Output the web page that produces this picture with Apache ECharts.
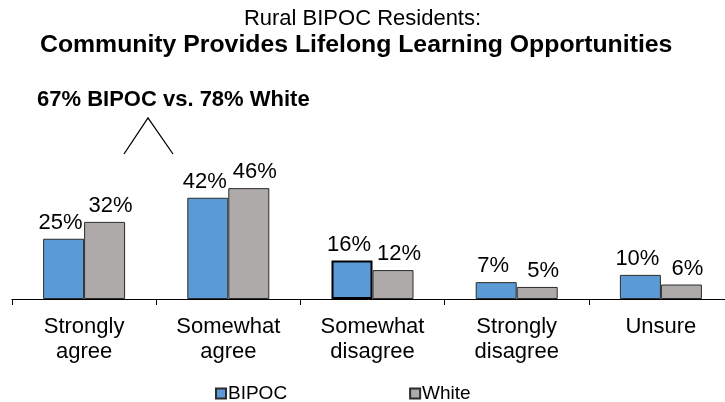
<!DOCTYPE html>
<html>
<head>
<meta charset="utf-8">
<script src="https://cdn.jsdelivr.net/npm/echarts@6/dist/echarts.min.js"></script>
<style>html,body{margin:0;padding:0;background:#fff}#c{width:725px;height:402px}</style>
</head>
<body>
<div id="c"></div>
<script>
var categories = ['Strongly\nagree', 'Somewhat\nagree', 'Somewhat\ndisagree', 'Strongly\ndisagree', 'Unsure'];
var bipoc = [25, 42, 16, 7, 10];
var white = [32, 46, 12, 5, 6];
var seriesNames = ['BIPOC', 'White'];
var titleText = 'Rural BIPOC Residents:';
var subtitleText = 'Community Provides Lifelong Learning Opportunities';
var noteText = '67% BIPOC vs. 78% White';

var FONT = '"Liberation Sans", Arial, sans-serif';
var chart = echarts.init(document.getElementById('c'));
function labelCfg(dx) {
  return { show: true, position: 'top', distance: 5, offset: [dx, 0], color: '#000', fontSize: 22, fontFamily: FONT, formatter: '{c}%' };
}
chart.setOption({
  animation: false,
  backgroundColor: '#fff',
  title: [
    { text: titleText, left: 'center', top: 8, padding: 0, textStyle: { fontSize: 22, fontWeight: 'normal', color: '#000', fontFamily: FONT } },
    { text: subtitleText, left: 40, top: 33, padding: 0, textStyle: { fontSize: 24.8, fontWeight: 'bold', color: '#000', fontFamily: FONT } },
    { text: noteText, left: 37, top: 89, padding: 0, textStyle: { fontSize: 22, fontWeight: 'bold', color: '#000', fontFamily: FONT } }
  ],
  graphic: [
    { type: 'polyline', shape: { points: [[124, 154], [148, 118], [173, 154]] }, style: { stroke: '#000', lineWidth: 1.3, fill: null } }
  ],
  legend: {
    left: 215, top: 384, padding: 0, itemWidth: 10, itemHeight: 10, itemGap: 122,
    textStyle: { fontSize: 19, color: '#000', fontFamily: FONT, padding: [0, 0, 0, -3] },
    data: seriesNames.map(function (n) { return { name: n, icon: 'rect' }; })
  },
  grid: { left: 12, top: 58, width: 721, height: 241, outerBoundsMode: 'none', containLabel: false },
  xAxis: {
    type: 'category', data: categories,
    axisLine: { lineStyle: { color: '#000', width: 1 } },
    axisTick: { show: true, length: 6, lineStyle: { color: '#000' } },
    axisLabel: { color: '#000', fontSize: 22, fontFamily: FONT, lineHeight: 25, margin: 15, interval: 0 }
  },
  yAxis: { type: 'value', min: 0, max: 100, show: false, splitLine: { show: false } },
  series: [
    {
      name: seriesNames[0], type: 'bar', barWidth: 41, barGap: '0%',
      itemStyle: { color: '#5B9BD5', borderColor: '#2b2b2b', borderWidth: 1 },
      label: labelCfg(-3),
      data: bipoc.map(function (v, i) {
        return i === 2 ? { value: v, itemStyle: { borderColor: '#000', borderWidth: 2 } } : v;
      })
    },
    {
      name: seriesNames[1], type: 'bar', barWidth: 41, barGap: '0%',
      itemStyle: { color: '#AEAAAA', borderColor: '#2b2b2b', borderWidth: 1 },
      label: labelCfg(6),
      data: white
    }
  ]
});
</script>
</body>
</html>
